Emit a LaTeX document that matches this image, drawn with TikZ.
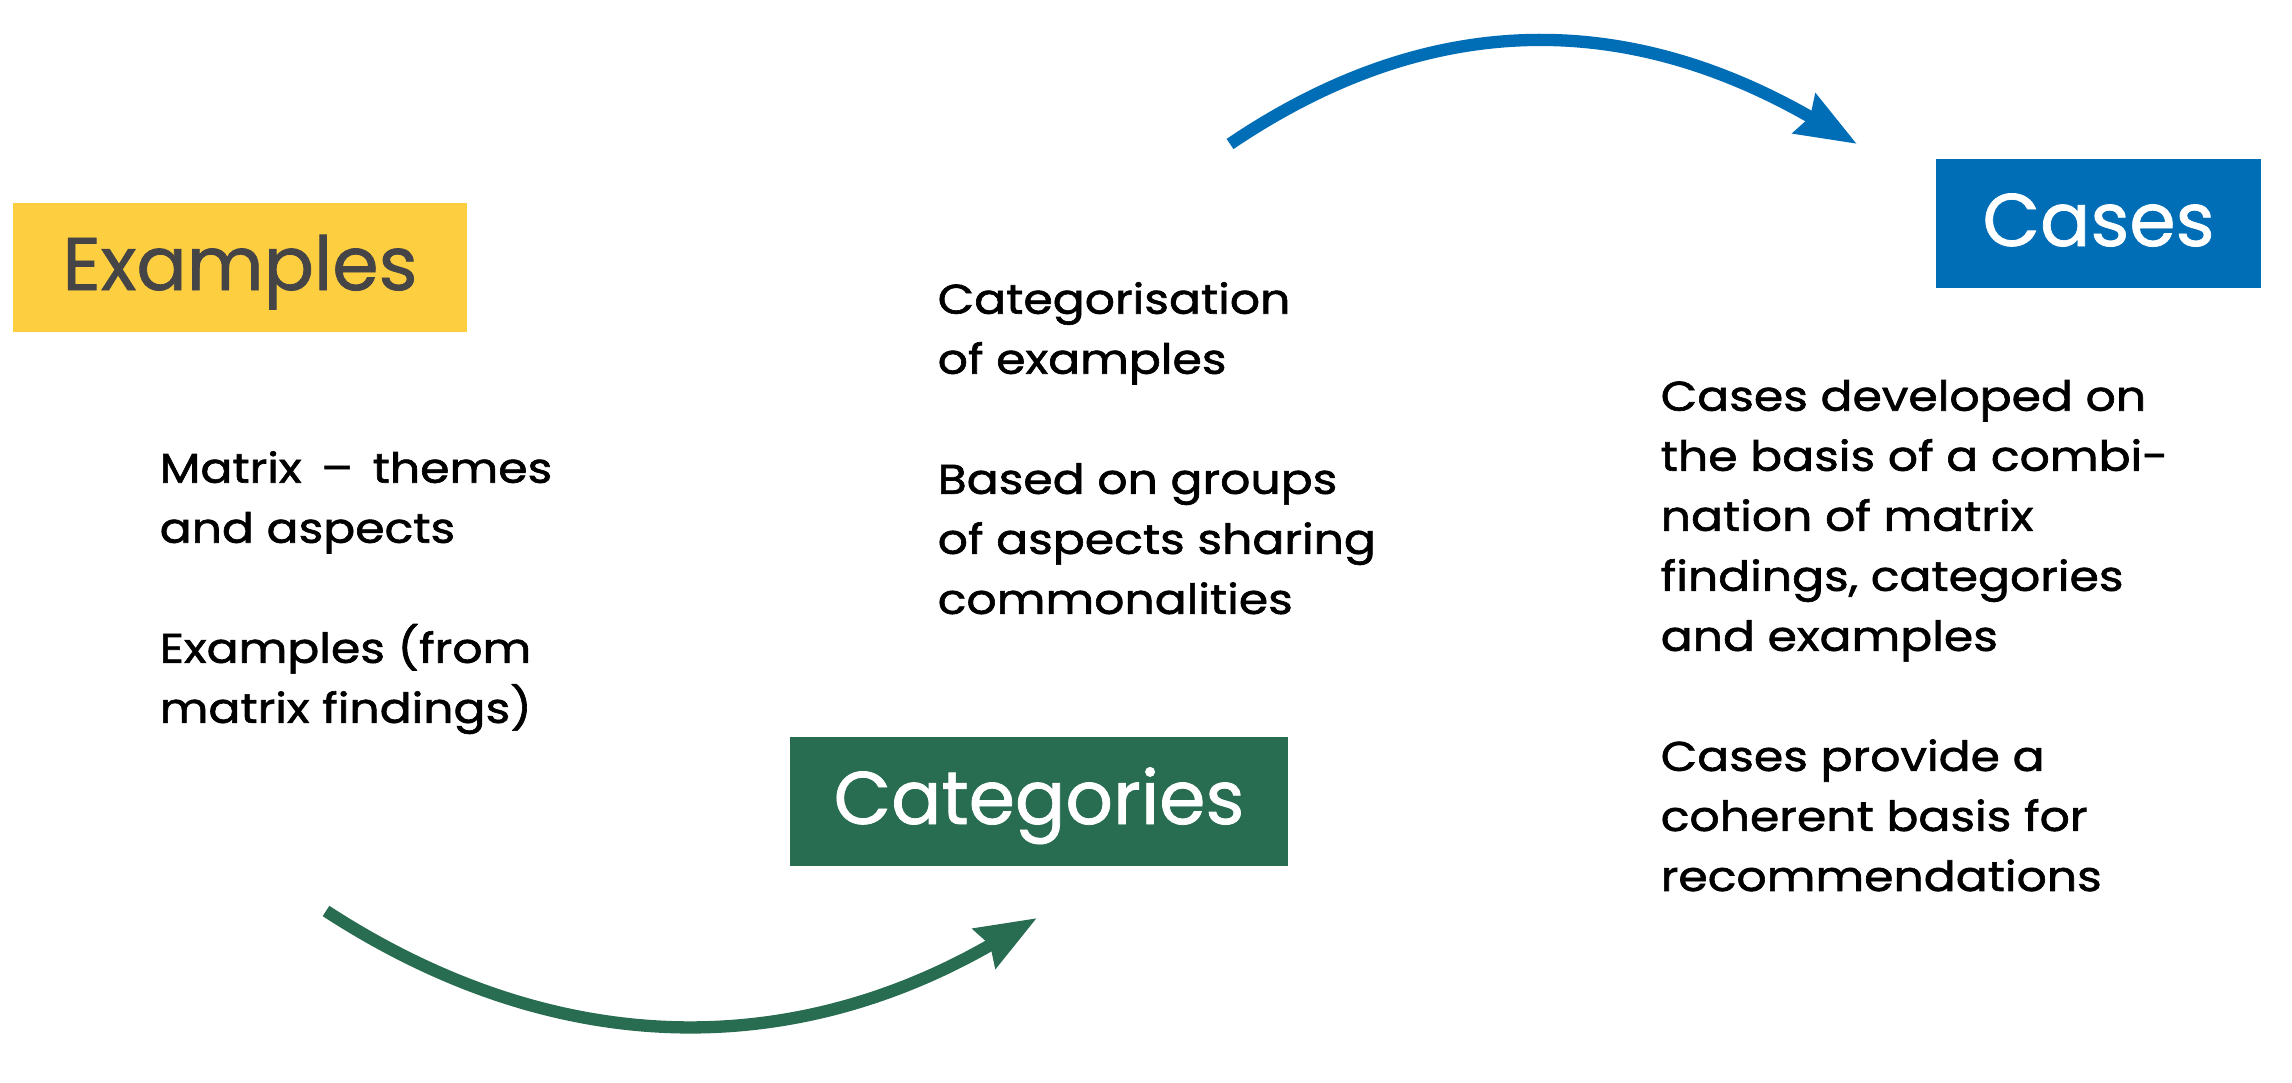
\documentclass[tikz,border=0pt]{standalone}
\usepackage{fontspec}
\setmainfont{Poppins}
\newfontfamily\bodyfont{Poppins}[FakeStretch=1.14, FakeBold=1.5]
\newfontfamily\headfont{Poppins}[FakeBold=1.0]
\usetikzlibrary{arrows.meta}
\definecolor{exyellow}{HTML}{FDCE40}
\definecolor{exgray}{HTML}{454547}
\definecolor{caseblue}{HTML}{006EB7}
\definecolor{catgreen}{HTML}{286D51}
\begin{document}
\begin{tikzpicture}[x=0.01cm, y=-0.01cm,
  headbox/.style={inner sep=0pt, minimum height=1.29cm, text height=0.52cm, text depth=0.07cm, font=\headfont\fontsize{21.2}{25}\selectfont},
  bodytext/.style={anchor=north west, inner sep=0pt, align=left, font=\bodyfont\fontsize{11.8}{17.07}\selectfont},
  flow/.style={line width=3.5pt, -{Stealth[length=0.6cm, width=0.44cm, inset=0.06cm]}}]
\useasboundingbox[fill=white] (0,0) rectangle (2292,1083);
\node[headbox, fill=exyellow, text=exgray, minimum width=4.54cm] (ex) at (240,267.5) {Examples};
\node[headbox, fill=caseblue, text=white, minimum width=3.25cm] (cs) at (2098.5,223.5) {Cases};
\node[headbox, fill=catgreen, text=white, minimum width=4.98cm] (cat) at (1039,801.5) {Categories};
\node[bodytext] (t1) at (159,447) {\rule{0pt}{0.35cm}Matrix \,–\, themes\\and aspects\\[0.6cm]Examples (from\\matrix findings)};
\node[bodytext] (t2) at (937,278) {\rule{0pt}{0.35cm}Categorisation\\of examples\\[0.6cm]Based on groups\\of aspects sharing\\commonalities};
\node[bodytext] (t3) at (1660,375) {\rule{0pt}{0.35cm}Cases developed on\\the basis of a combi-\\nation of matrix\\findings, categories\\and examples\\[0.6cm]Cases provide a\\coherent basis for\\recommendations};
\coordinate (bs) at (1230,144);
\coordinate (be) at (1857,144);
\coordinate (gs) at (326,911);
\coordinate (ge) at (1037,918);
\draw[flow, caseblue] (bs) .. controls (1440,2) and (1637,17) .. (be);
\draw[flow, catgreen] (gs) .. controls (560,1063) and (795,1058) .. (ge);
\end{tikzpicture}
\end{document}
